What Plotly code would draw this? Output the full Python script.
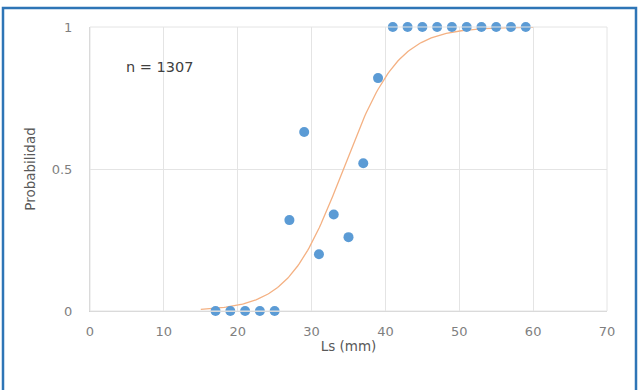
import numpy as np
import plotly.graph_objects as go

# Observed data
ls_mm = [17, 19, 21, 23, 25, 27, 29, 31, 33, 35, 37, 39,
         41, 43, 45, 47, 49, 51, 53, 55, 57, 59]
prob = [0, 0, 0, 0, 0, 0.32, 0.63, 0.20, 0.34, 0.26, 0.52, 0.82,
        1, 1, 1, 1, 1, 1, 1, 1, 1, 1]

# Fitted logistic (ogive) parameters
L50 = 34.3
slope = 0.27
curve_start, curve_end = 15, 60

x_ticks = [0, 10, 20, 30, 40, 50, 60, 70]
y_ticks = [0, 0.5, 1]
y_tick_labels = ["0", "0.5", "1"]

xc = np.linspace(curve_start, curve_end, 200)
yc = 1 / (1 + np.exp(-slope * (xc - L50)))

fig = go.Figure()
fig.add_trace(go.Scatter(x=xc, y=yc, mode="lines",
                         line=dict(color="#F4B183", width=1.3),
                         hoverinfo="skip", cliponaxis=False))
fig.add_trace(go.Scatter(x=ls_mm, y=prob, mode="markers",
                         marker=dict(color="#5B9BD5", size=10),
                         cliponaxis=False))

font_family = "'DejaVu Sans', sans-serif"
fig.update_layout(
    width=639, height=390,
    margin=dict(l=90, r=32, t=27, b=79),
    paper_bgcolor="white", plot_bgcolor="white",
    showlegend=False,
    font=dict(family=font_family, color="#7F7F7F", size=13),
    xaxis=dict(range=[0, 70], tickvals=x_ticks, showgrid=True,
               gridcolor="#E4E4E4", gridwidth=1, zeroline=False,
               showline=True, linecolor="#D0D0D0", mirror=False,
               ticks="", ticklen=0, ticklabelstandoff=8,
               title=dict(text="Ls (mm)", font=dict(size=13.5, color="#595959"),
                          standoff=3)),
    yaxis=dict(range=[0, 1], tickvals=y_ticks, ticktext=y_tick_labels,
               showgrid=True, gridcolor="#E4E4E4", gridwidth=1, zeroline=False,
               showline=True, linecolor="#D0D0D0", ticks="", ticklen=0,
               ticklabelstandoff=14,
               title=dict(text="Probabilidad", font=dict(size=13.5, color="#595959"),
                          standoff=12)),
    annotations=[dict(x=4.6, y=0.86, xref="x", yref="y", text="n = 1307",
                      showarrow=False, xanchor="left",
                      font=dict(size=14.5, color="#404040"))],
    shapes=[
        dict(type="rect", xref="paper", yref="paper", x0=0, x1=1, y0=0, y1=1,
             line=dict(color="#E4E4E4", width=1)),
    ],
)
# outer blue frame
fig.add_shape(type="rect", xref="paper", yref="paper",
              x0=-87/517, x1=1 + 29/517, y0=-0.5, y1=1 + 19/284,
              line=dict(color="#2E75B6", width=2.5), layer="below")

fig.write_html("out.html")
